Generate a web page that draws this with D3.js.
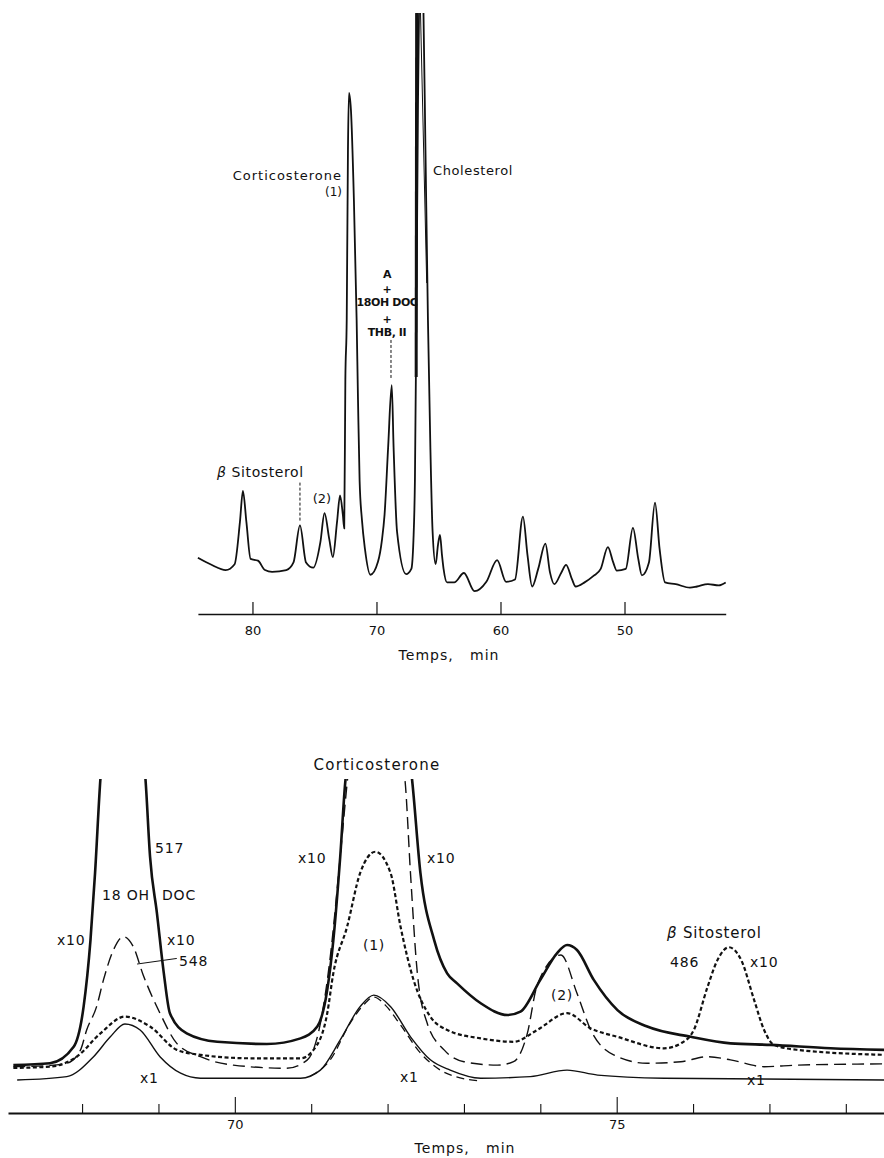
<!DOCTYPE html>
<html>
<head>
<meta charset="utf-8">
<script src="https://cdn.jsdelivr.net/npm/d3@7"></script>
<style>
  body { margin: 0; background: #fff; }
  svg text { font-family: "DejaVu Sans", "Liberation Sans", sans-serif; fill: #111; }
</style>
</head>
<body>
<svg id="chart" width="884" height="1158"></svg>
<script>
// ---- top chromatogram: [time (min), response] ----
const topTrace = [
  [84.40, 7.2], [83.31, 6.0], [82.16, 5.1], [81.44, 6.1], [81.01, 13.3], [80.77, 18.6],
  [80.49, 13.3], [80.15, 7.0], [79.56, 6.7], [78.99, 5.1], [78.42, 4.8], [77.27, 5.1],
  [76.69, 6.4], [76.17, 12.7], [75.68, 6.4], [75.10, 5.5], [74.52, 9.9], [74.19, 14.8],
  [73.81, 10.4], [73.52, 7.3], [73.18, 13.3], [72.94, 17.8], [72.71, 14.5], [72.60, 12.2],
  [72.51, 37.5], [72.40, 47.7], [72.30, 76.7], [72.22, 86.4], [72.06, 83.5], [71.82, 68.1],
  [71.60, 47.7], [71.49, 34.1], [71.36, 20.3], [71.17, 13.6], [70.93, 8.7], [70.49, 4.3],
  [69.88, 6.5], [69.56, 10.2], [69.35, 14.5], [69.06, 26.0], [68.77, 36.6], [68.62, 26.0],
  [68.34, 11.6], [67.61, 4.4], [67.19, 5.3], [67.02, 10.2], [66.90, 20.4], [66.77, 51.1],
  [66.65, 85.2], [66.57, 100], [66.41, 115], [66.21, 100], [66.05, 76.7], [65.85, 47.7],
  [65.65, 25.6], [65.48, 11.9], [65.23, 6.1], [65.04, 9.4], [64.88, 11.1], [64.72, 7.7],
  [64.59, 5.3], [64.31, 3.0], [63.73, 3.0], [62.95, 4.6], [62.09, 1.5], [61.14, 3.1],
  [60.27, 6.8], [59.55, 3.1], [58.83, 3.5], [58.19, 14.2], [57.82, 7.6], [57.45, 2.3],
  [56.96, 5.3], [56.38, 9.6], [56.01, 4.7], [55.66, 2.7], [55.09, 4.7], [54.71, 6.0],
  [54.23, 3.5], [53.94, 2.3], [53.22, 3.0], [52.50, 4.1], [51.92, 5.3], [51.34, 9.0],
  [50.91, 6.4], [50.62, 5.0], [49.90, 5.3], [49.32, 12.3], [48.89, 7.0], [48.60, 4.2],
  [48.03, 6.4], [47.54, 16.6], [47.17, 8.7], [46.73, 3.0], [45.87, 2.7], [44.72, 2.1],
  [44.15, 2.3], [43.27, 2.7], [42.40, 2.5], [41.84, 3.0]
];
// extra pen strokes where the cholesterol peak runs off scale
const cholesterolPenHeavy = [[66.76, 100], [66.80, 38]];
const cholesterolPenLight = [[66.45, 100], [65.95, 54]];
const topTicks = [80, 70, 60, 50];

// ---- bottom detail: [time (min), response] ----
const heavyX10 = [
  [67.10, 8.0], [67.58, 8.6], [67.89, 13.9], [68.02, 26.8], [68.11, 48.2], [68.17, 69.8],
  [68.24, 100], [68.53, 150], [68.83, 100], [68.89, 75.0], [68.98, 56.9], [69.07, 37.6],
  [69.15, 24.7], [69.37, 18.2], [69.77, 15.5], [70.42, 14.8], [70.86, 16.6], [71.08, 20.4],
  [71.21, 32.2], [71.29, 48.2], [71.38, 75.0], [71.45, 100], [71.88, 150], [72.32, 100],
  [72.43, 69.8], [72.61, 48.2], [72.78, 37.5], [72.91, 34.3], [73.22, 27.9], [73.57, 24.1],
  [73.74, 25.2], [74.00, 35.4], [74.22, 44.0], [74.35, 46.6], [74.48, 45.0], [74.70, 35.4],
  [75.01, 25.7], [75.40, 20.4], [75.97, 17.1], [76.49, 15.0], [77.02, 14.5], [77.80, 13.4],
  [78.51, 12.9]
];
const dash548X10 = [
  [67.10, 7.5], [67.58, 7.9], [67.80, 8.6], [67.98, 12.9], [68.06, 19.3], [68.19, 26.8],
  [68.28, 35.4], [68.41, 45.0], [68.54, 49.3], [68.67, 46.1], [68.80, 37.0], [69.02, 24.7],
  [69.24, 15.0], [69.55, 10.7], [69.98, 8.0], [70.68, 7.0], [70.95, 9.7], [71.12, 21.4],
  [71.25, 42.9], [71.38, 75.0], [71.47, 98.6], [71.85, 150], [72.23, 99.1], [72.30, 69.7],
  [72.39, 37.5], [72.52, 21.4], [72.74, 12.9], [73.00, 9.1], [73.44, 8.0], [73.65, 9.1],
  [73.83, 18.2], [73.96, 33.8], [74.27, 43.4], [74.48, 31.1], [74.66, 19.3], [74.96, 11.3],
  [75.40, 8.6], [75.84, 9.1], [76.19, 10.7], [76.49, 9.7], [76.93, 7.5], [77.37, 8.0],
  [78.51, 8.4]
];
const dot486X10 = [
  [67.10, 7.1], [67.58, 7.5], [67.93, 10.7], [68.24, 18.2], [68.56, 23.6], [68.89, 20.4],
  [69.24, 12.9], [69.55, 11.3], [70.20, 10.2], [70.86, 10.2], [71.03, 12.9], [71.21, 24.7],
  [71.29, 37.6], [71.47, 52.5], [71.64, 69.7], [71.84, 76.6], [72.04, 69.7], [72.17, 52.5],
  [72.34, 35.4], [72.56, 23.6], [72.78, 19.3], [73.22, 16.6], [73.65, 15.5], [73.96, 19.3],
  [74.35, 24.7], [74.66, 19.8], [75.01, 17.1], [75.62, 13.4], [75.84, 15.0], [76.01, 19.3],
  [76.19, 33.2], [76.32, 41.8], [76.47, 45.9], [76.63, 41.8], [76.80, 28.9], [76.93, 19.3],
  [77.06, 14.5], [77.37, 12.9], [78.51, 11.3]
];
const solidX1 = [
  [67.15, 3.2], [67.80, 4.3], [68.15, 10.7], [68.37, 17.1], [68.56, 21.2], [68.76, 19.3],
  [69.02, 10.7], [69.29, 5.4], [69.55, 3.8], [69.98, 3.8], [70.86, 3.8], [71.12, 6.4],
  [71.38, 16.1], [71.64, 26.8], [71.82, 30.5], [72.04, 26.8], [72.30, 17.1], [72.56, 9.7],
  [72.82, 6.4], [73.22, 3.8], [73.87, 4.3], [74.35, 6.4], [74.75, 4.8], [75.62, 3.8],
  [78.51, 3.2]
];
const dashX1 = [
  [70.99, 4.5], [71.25, 9.7], [71.51, 21.5], [71.71, 28.0], [71.82, 29.9], [71.97, 27.3],
  [72.17, 20.9], [72.43, 11.9], [72.69, 6.4], [72.95, 3.9], [73.22, 2.9]
];
const bottomTicks = d3.range(68, 79);
const bottomLabelled = [70, 75];

// ---- drawing ----
const svg = d3.select("#chart");
const defs = svg.append("defs");

// top panel scales
const xTop = d3.scaleLinear().domain([84.4, 41.84]).range([197.9, 725.7]);
const yTop = d3.scaleLinear().domain([0, 100]).range([600, 13]);
defs.append("clipPath").attr("id", "clipTop")
  .append("rect").attr("x", 180).attr("y", yTop(100)).attr("width", 560).attr("height", 605);

const lineTop = d3.line().x(d => xTop(d[0])).y(d => yTop(d[1])).curve(d3.curveMonotoneX);
const gTop = svg.append("g").attr("clip-path", "url(#clipTop)");
gTop.append("path").datum(topTrace).attr("d", lineTop)
  .attr("fill", "none").attr("stroke", "#111").attr("stroke-width", 1.8);
gTop.append("path").datum(cholesterolPenHeavy).attr("d", d3.line().x(d => xTop(d[0])).y(d => yTop(d[1])))
  .attr("fill", "none").attr("stroke", "#111").attr("stroke-width", 3);
gTop.append("path").datum(cholesterolPenLight).attr("d", d3.line().x(d => xTop(d[0])).y(d => yTop(d[1])))
  .attr("fill", "none").attr("stroke", "#111").attr("stroke-width", 1);

const axisTopY = 614;
const axTop = svg.append("g").attr("transform", `translate(0,${axisTopY})`)
  .call(d3.axisBottom(xTop).tickValues(topTicks).tickSize(-12).tickSizeOuter(0).tickPadding(12));
axTop.select(".domain").attr("stroke", "#111").attr("stroke-width", 1.6);
axTop.selectAll(".tick line").attr("stroke", "#111").attr("stroke-width", 1.2);
axTop.selectAll(".tick text").attr("font-size", 13).attr("font-family", "DejaVu Sans").attr("fill", "#111");
svg.append("text").attr("x", 449).attr("y", 660).attr("text-anchor", "middle")
  .attr("font-size", 14).attr("letter-spacing", 1).attr("xml:space", "preserve").text("Temps,   min");

// top labels
svg.append("text").attr("x", 342).attr("y", 180).attr("text-anchor", "end")
  .attr("font-size", 13).attr("letter-spacing", 1).text("Corticosterone");
svg.append("text").attr("x", 342).attr("y", 196).attr("text-anchor", "end")
  .attr("font-size", 12).text("(1)");
svg.append("text").attr("x", 433).attr("y", 175)
  .attr("font-size", 13).attr("letter-spacing", 0.6).text("Cholesterol");
const small = [["A", 278], ["+", 293], ["18OH DOC", 306], ["+", 323], ["THB, II", 336]];
small.forEach(([s, y]) => {
  svg.append("text").attr("x", 387).attr("y", y).attr("text-anchor", "middle")
    .attr("font-size", 11).attr("font-weight", "bold").attr("letter-spacing", -0.4).text(s);
});
svg.append("line").attr("x1", xTop(68.83)).attr("x2", xTop(68.83))
  .attr("y1", yTop(44.3)).attr("y2", yTop(37.6))
  .attr("stroke", "#111").attr("stroke-dasharray", "3,2");
const betaTop = svg.append("text").attr("x", 217).attr("y", 477).attr("font-size", 14).attr("letter-spacing", 0.6);
betaTop.append("tspan").attr("font-style", "italic").text("β");
betaTop.append("tspan").text(" Sitosterol");
svg.append("line").attr("x1", xTop(76.17)).attr("x2", xTop(76.17))
  .attr("y1", yTop(20)).attr("y2", yTop(13.3))
  .attr("stroke", "#111").attr("stroke-dasharray", "3,2");
svg.append("text").attr("x", 322).attr("y", 503).attr("text-anchor", "middle")
  .attr("font-size", 13).text("(2)");

// bottom panel scales
const xBot = d3.scaleLinear().domain([67.03, 78.5]).range([8, 884]);
const yBot = d3.scaleLinear().domain([0, 100]).range([1090, 779]);
defs.append("clipPath").attr("id", "clipBot")
  .append("rect").attr("x", 0).attr("y", yBot(100)).attr("width", 884).attr("height", 340);

const lineBot = d3.line().x(d => xBot(d[0])).y(d => yBot(d[1])).curve(d3.curveMonotoneX);
const gBot = svg.append("g").attr("clip-path", "url(#clipBot)");
const series = [
  { data: solidX1, w: 1.4, dash: null },
  { data: dashX1, w: 1.3, dash: "8,5" },
  { data: dash548X10, w: 1.4, dash: "12,6" },
  { data: dot486X10, w: 2.2, dash: "4,2.5" },
  { data: heavyX10, w: 2.6, dash: null }
];
series.forEach(s => {
  gBot.append("path").datum(s.data).attr("d", lineBot)
    .attr("fill", "none").attr("stroke", "#111").attr("stroke-width", s.w)
    .attr("stroke-dasharray", s.dash);
});

const axisBotY = 1113;
const axBot = svg.append("g").attr("transform", `translate(0,${axisBotY})`)
  .call(d3.axisBottom(xBot).tickValues(bottomTicks).tickSize(-9).tickSizeOuter(0).tickPadding(7)
    .tickFormat(d => bottomLabelled.includes(d) ? d : ""));
axBot.select(".domain").attr("stroke", "#111").attr("stroke-width", 1.8);
axBot.selectAll(".tick line").attr("stroke", "#111").attr("stroke-width", 1.1)
  .filter(d => bottomLabelled.includes(d)).attr("y2", -16);
axBot.selectAll(".tick text").attr("font-size", 13).attr("font-family", "DejaVu Sans").attr("fill", "#111");
svg.append("text").attr("x", 465).attr("y", 1153).attr("text-anchor", "middle")
  .attr("font-size", 14).attr("letter-spacing", 1).attr("xml:space", "preserve").text("Temps,   min");

// bottom labels
const bl = (x, y, s, opts = {}) => svg.append("text").attr("x", x).attr("y", y)
  .attr("font-size", opts.size || 14).attr("letter-spacing", opts.ls ?? 0.8)
  .attr("text-anchor", opts.anchor || "start").text(s);
bl(377, 770, "Corticosterone", { size: 15, ls: 1.2, anchor: "middle" });
bl(155, 853, "517");
bl(102, 900, "18 OH");
bl(162, 900, "DOC");
bl(57, 945, "x10");
bl(167, 945, "x10");
bl(179, 966, "548");
bl(298, 863, "x10");
bl(427, 863, "x10");
bl(374, 950, "(1)", { anchor: "middle" });
bl(140, 1083, "x1");
bl(400, 1082, "x1");
bl(747, 1085, "x1");
bl(562, 1000, "(2)", { anchor: "middle" });
const betaBot = svg.append("text").attr("x", 667).attr("y", 938).attr("font-size", 15).attr("letter-spacing", 0.8);
betaBot.append("tspan").attr("font-style", "italic").text("β");
betaBot.append("tspan").text(" Sitosterol");
bl(670, 967, "486");
bl(750, 967, "x10");
svg.append("line").attr("x1", xBot(68.72)).attr("y1", yBot(40.5))
  .attr("x2", xBot(69.24)).attr("y2", yBot(42.3)).attr("stroke", "#111").attr("stroke-width", 1);
</script>
</body>
</html>
